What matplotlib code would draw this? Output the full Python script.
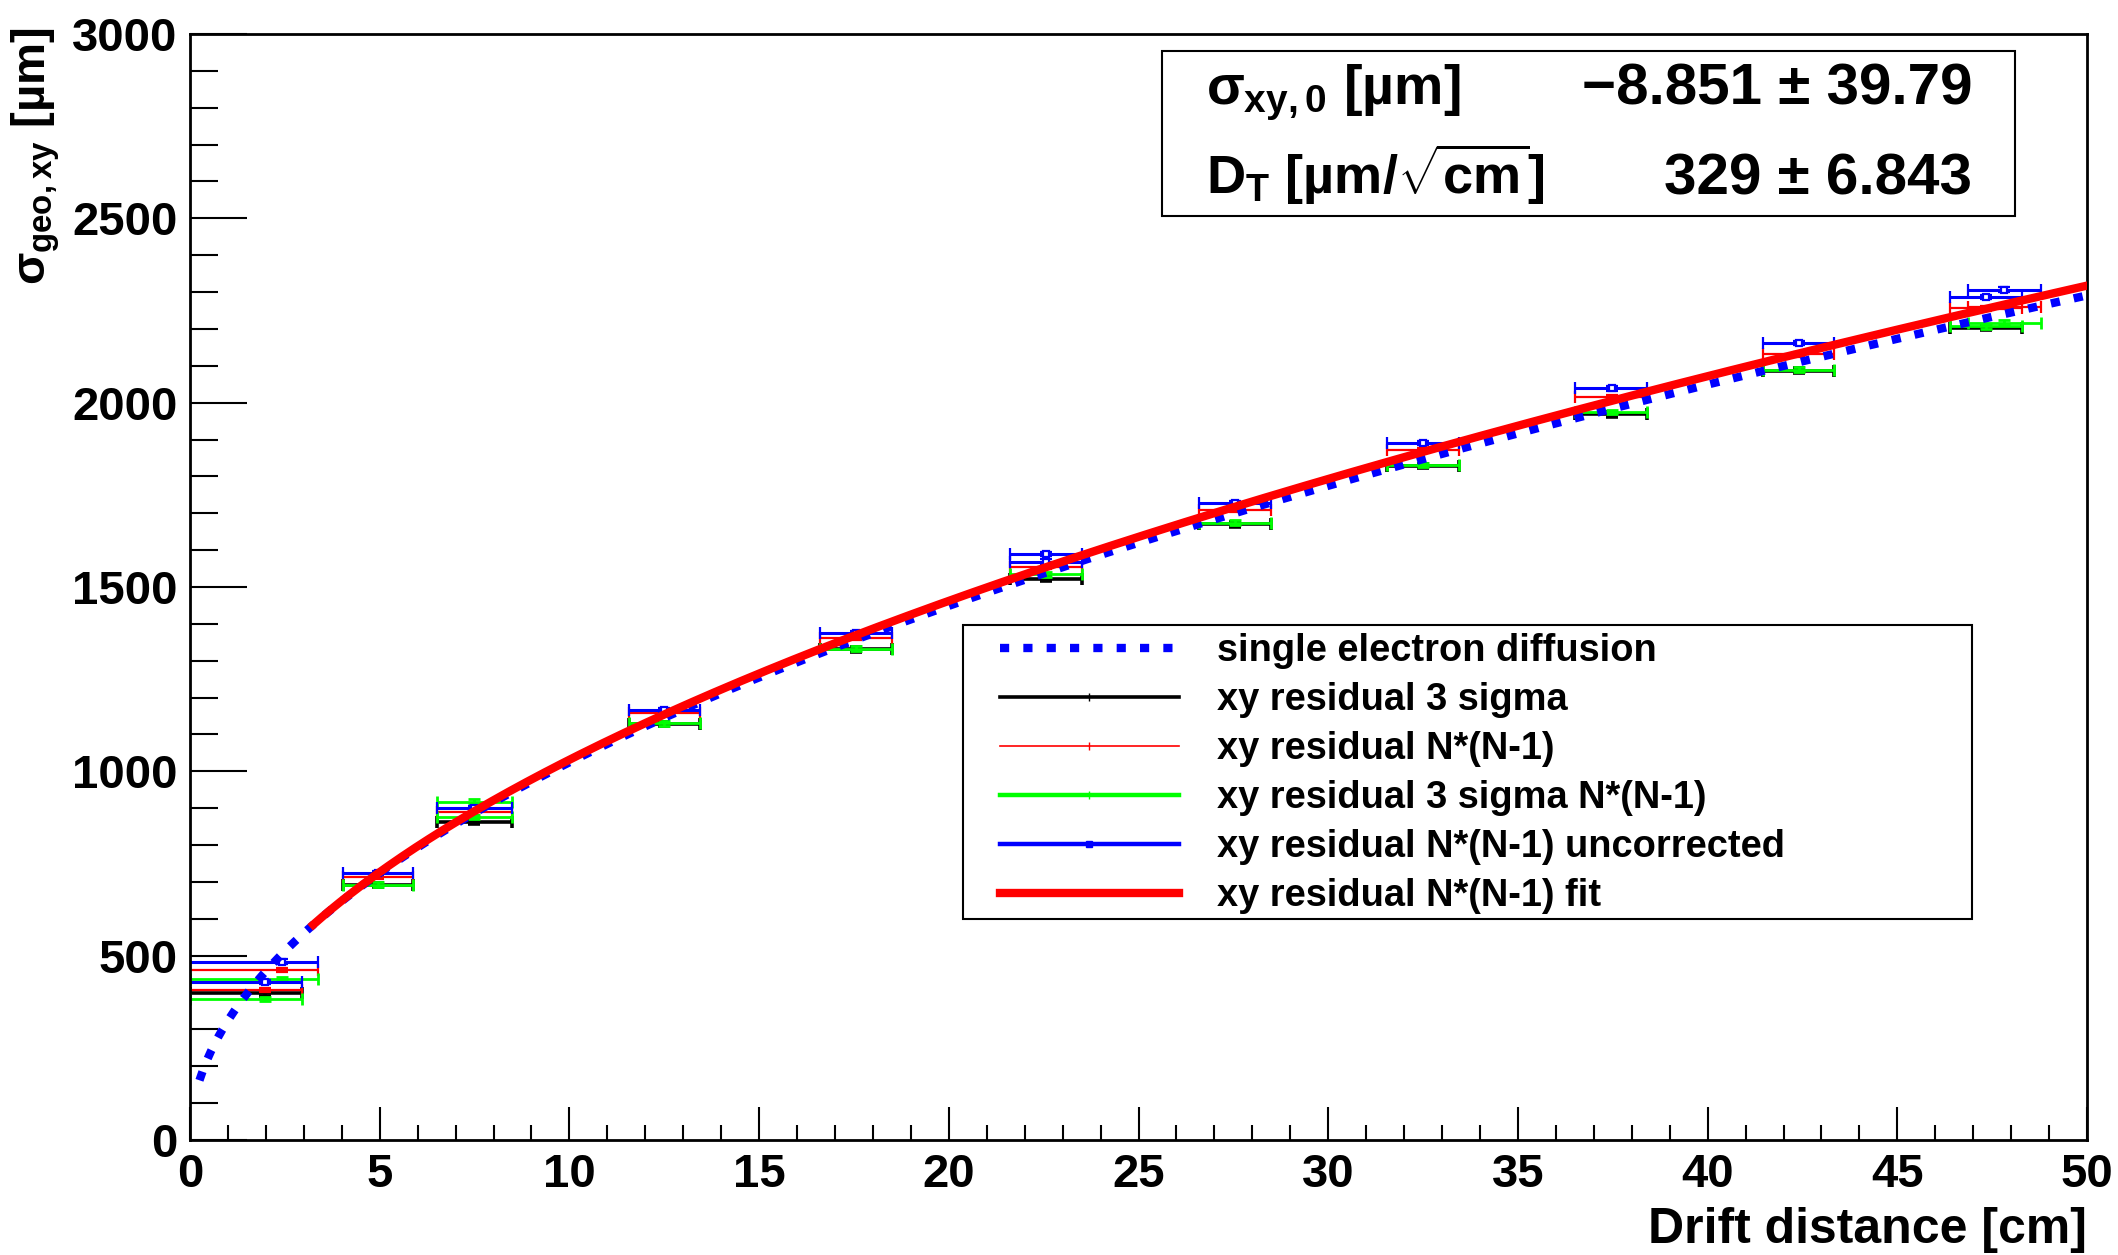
import matplotlib

matplotlib.use("Agg")
import matplotlib.pyplot as plt
import numpy as np
from matplotlib.lines import Line2D
from matplotlib.patches import Rectangle
from matplotlib.ticker import MultipleLocator

plt.rcParams["font.family"] = ["Liberation Sans", "DejaVu Sans"]
plt.rcParams["font.weight"] = "bold"
plt.rcParams["mathtext.fontset"] = "custom"
for key in ("rm", "it", "bf", "sf"):
    plt.rcParams["mathtext." + key] = "Liberation Sans:bold"

# drift-distance bins (cm) and their horizontal extent
bin_center = [1.98, 4.95, 7.49, 12.50, 17.55, 22.56, 27.54, 32.50, 37.47, 42.41, 47.34]
bin_lo = [1.98, 0.93, 0.99, 0.93, 0.95, 0.95, 0.95, 0.95, 0.97, 0.94, 0.95]
bin_hi = [0.98, 0.93, 0.99, 0.93, 0.95, 0.95, 0.95, 0.95, 0.94, 0.93, 0.95]

# sigma_geo,xy per bin (um)
res_3sigma = [398, 692, 863, 1128, 1331, 1523, 1670, 1829, 1968, 2087, 2203]
res_nn1 = [407, 714, 889, 1157, 1362, 1555, 1709, 1871, 2016, 2131, 2256]
res_3sigma_nn1 = [382, 693, 877, 1130, 1333, 1534, 1675, 1831, 1975, 2090, 2207]
res_uncorr = [428, 725, 901, 1166, 1376, 1589, 1728, 1891, 2039, 2162, 2287]

# second set of points drawn on top of some bins
extra_center = [2.42, 7.49, 22.56, 47.82]
extra_lo = [2.42, 0.99, 0.95, 0.95]
extra_hi = [0.96, 0.99, 0.95, 0.97]
extra_nn1 = [461, np.nan, np.nan, 2260]
extra_3sigma_nn1 = [437, 918, np.nan, 2217]
extra_uncorr = [484, np.nan, 1569, 2307]

y_err = 6

# fit result and single electron diffusion
sigma0 = -8.851
sigma0_err = 39.79
d_t = 329
d_t_err = 6.843
fit_start = 3.25
d_single = 324
single_start = 0.25

fig = plt.figure(figsize=(21.18, 12.55), dpi=100)
ax = fig.add_axes([0.0897, 0.0916, 0.8957, 0.8813])


def draw_points(x, y, lo, hi, color, lw, **kw):
    x, y, lo, hi = (np.asarray(a, dtype=float) for a in (x, y, lo, hi))
    ok = ~np.isnan(y)
    ax.errorbar(x[ok], y[ok], xerr=[lo[ok], hi[ok]], yerr=y_err,
                ecolor=color, elinewidth=lw, capsize=4, capthick=lw,
                color=color, **kw)


draw_points(bin_center, res_3sigma, bin_lo, bin_hi, "black", 2.6, fmt="none")
draw_points(bin_center, res_nn1, bin_lo, bin_hi, "red", 1.6, fmt="none")
draw_points(extra_center, extra_nn1, extra_lo, extra_hi, "red", 1.6, fmt="none")
draw_points(bin_center, res_3sigma_nn1, bin_lo, bin_hi, "#00ff00", 2.0, fmt="none")
draw_points(extra_center, extra_3sigma_nn1, extra_lo, extra_hi, "#00ff00", 2.0, fmt="none")
uncorr_style = dict(fmt="s", ms=5, mfc="white", mec="blue", mew=1.6)
draw_points(bin_center, res_uncorr, bin_lo, bin_hi, "blue", 2.2, **uncorr_style)
draw_points(extra_center, extra_uncorr, extra_lo, extra_hi, "blue", 2.2, **uncorr_style)

z = np.linspace(single_start, 50, 500)
ax.plot(z, d_single * np.sqrt(z), color="blue", lw=6, dashes=(1.1, 1.7),
        dash_capstyle="butt", zorder=4)
zf = np.linspace(fit_start, 50, 400)
ax.plot(zf, sigma0 + d_t * np.sqrt(zf), color="red", lw=6, zorder=5)

ax.set_xlim(0, 50)
ax.set_ylim(0, 3000)
ax.xaxis.set_major_locator(MultipleLocator(5))
ax.xaxis.set_minor_locator(MultipleLocator(1))
ax.yaxis.set_major_locator(MultipleLocator(500))
ax.yaxis.set_minor_locator(MultipleLocator(100))
ax.tick_params(which="both", direction="in", top=False, right=False, width=1.5)
ax.tick_params(axis="x", which="major", length=24, labelsize=34, pad=9)
ax.tick_params(axis="x", which="minor", length=11)
ax.tick_params(axis="y", which="major", length=41, labelsize=34, pad=9)
ax.tick_params(axis="y", which="minor", length=20)
for sp in ax.spines.values():
    sp.set_linewidth(2)

fig.text(0.9854, 0.0096, "Drift distance [cm]", ha="right", va="baseline", fontsize=36)
fig.text(0.017, 0.978, r"$\sigma_{geo,xy}$ [µm]", rotation=90, ha="center", va="top",
         fontsize=34)

# fit parameter box
ax.add_patch(Rectangle((0.5124, 0.8354), 0.4496, 0.1492, transform=ax.transAxes,
                       facecolor="white", edgecolor="black", lw=1.5, zorder=10))
ax.text(0.5356, 0.9367, r"$\sigma_{xy,0}$ [µm]", transform=ax.transAxes,
        fontsize=40, va="baseline", zorder=11)
ax.text(0.9394, 0.9367, f"\u2212{abs(sigma0):.3f} \u00b1 {sigma0_err:.2f}",
        transform=ax.transAxes, fontsize=42, ha="right", va="baseline", zorder=11)
ax.text(0.5356, 0.8553, r"$D_T$ [µm/$\sqrt{cm}$]", transform=ax.transAxes,
        fontsize=39, va="baseline", zorder=11)
ax.text(0.9394, 0.8553, f"{d_t} \u00b1 {d_t_err:.3f}", transform=ax.transAxes,
        fontsize=42, ha="right", va="baseline", zorder=11)

# legend
ax.add_patch(Rectangle((0.4075, 0.1998), 0.5319, 0.2658, transform=ax.transAxes,
                       facecolor="white", edgecolor="black", lw=1.5, zorder=10))
handles = [
    Line2D([], [], color="blue", lw=6, dashes=(1.1, 1.7), dash_capstyle="butt"),
    Line2D([], [], color="black", lw=2.6, marker="|", ms=6, mew=1),
    Line2D([], [], color="red", lw=1.2, marker="|", ms=6, mew=1),
    Line2D([], [], color="#00ff00", lw=3.2, marker="|", ms=6, mew=1),
    Line2D([], [], color="blue", lw=3.2, marker="s", ms=5),
    Line2D([], [], color="red", lw=6),
]
labels = [
    "single electron diffusion",
    "xy residual 3 sigma",
    "xy residual N*(N-1)",
    "xy residual 3 sigma N*(N-1)",
    "xy residual N*(N-1) uncorrected",
    "xy residual N*(N-1) fit",
]
leg = ax.legend(handles, labels, loc="upper left", bbox_to_anchor=(0.427, 0.4583),
                frameon=False, fontsize=27.4, borderpad=0, borderaxespad=0,
                handlelength=4.7, handletextpad=1.0, labelspacing=0.34)
leg.set_zorder(11)

fig.savefig("out.png", dpi=100)
